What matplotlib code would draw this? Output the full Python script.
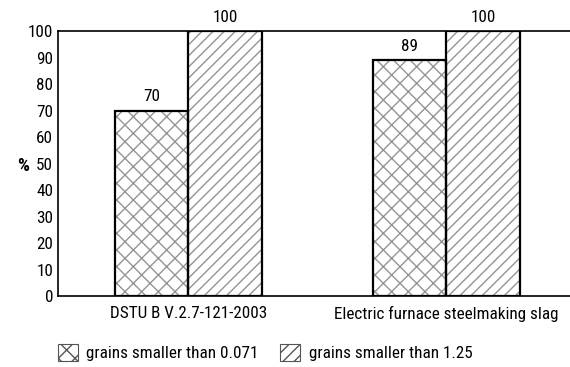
import matplotlib
matplotlib.use('Agg')
import matplotlib.pyplot as plt
from matplotlib import font_manager
from matplotlib.patches import Patch
import numpy as np

names = {f.name for f in font_manager.fontManager.ttflist}
for fam in ['Roboto Condensed', 'Liberation Sans Narrow', 'DejaVu Sans Condensed']:
    if fam in names:
        plt.rcParams['font.family'] = fam
        break

categories = ['DSTU B V.2.7-121-2003', 'Electric furnace steelmaking slag']
fine = [70, 89]
coarse = [100, 100]
series_labels = ['grains smaller than 0.071', 'grains smaller than 1.25']
yticks = list(range(0, 101, 10))

FS = 12.3
plt.rcParams['hatch.linewidth'] = 1.0

fig = plt.figure(figsize=(5.70, 3.67), dpi=100)
ax = fig.add_axes([0.102, 0.193, 0.898, 0.7225])

x = np.arange(len(categories))
w = 0.285

# hatch drawn in gray, outline drawn on top in black
ax.bar(x - w / 2, fine, w, color='white', edgecolor='#949494', hatch='xx', linewidth=0)
ax.bar(x + w / 2, coarse, w, color='white', edgecolor='#949494', hatch='///', linewidth=0)
ax.bar(x - w / 2, fine, w, fill=False, edgecolor='black', linewidth=1.6)
ax.bar(x + w / 2, coarse, w, fill=False, edgecolor='black', linewidth=1.6)

for xi, v in zip(x - w / 2, fine):
    ax.text(xi, v + 2.3, str(v), ha='center', va='bottom', fontsize=FS)
for xi, v in zip(x + w / 2, coarse):
    ax.text(xi, v + 2.3, str(v), ha='center', va='bottom', fontsize=FS)

ax.set_xlim(-0.504, 1.48)
ax.set_ylim(0, 100)
ax.set_yticks(yticks)
ax.set_xticks(x)
ax.set_xticklabels(categories, fontsize=FS)
ax.tick_params(axis='both', length=0, labelsize=FS)
ax.tick_params(axis='y', pad=3.5)
ax.tick_params(axis='x', pad=7)
ax.spines['right'].set_visible(False)
for s in ['left', 'top', 'bottom']:
    ax.spines[s].set_linewidth(1.2)
ax.set_ylabel('%', rotation=0, fontweight='bold', fontsize=13.5, va='center', ha='center')
ax.yaxis.set_label_coords(-0.068, 0.49)

handles = [Patch(facecolor='white', edgecolor='#555555', hatch='xx', linewidth=0.8),
           Patch(facecolor='white', edgecolor='#555555', hatch='///', linewidth=0.8)]
fig.legend(handles, series_labels, loc='center left', bbox_to_anchor=(0.074, 0.040),
           ncol=2, frameon=False, fontsize=FS, handlelength=1.18, handleheight=1.18,
           columnspacing=1.25, handletextpad=0.5)

fig.savefig('out.png', dpi=100)
